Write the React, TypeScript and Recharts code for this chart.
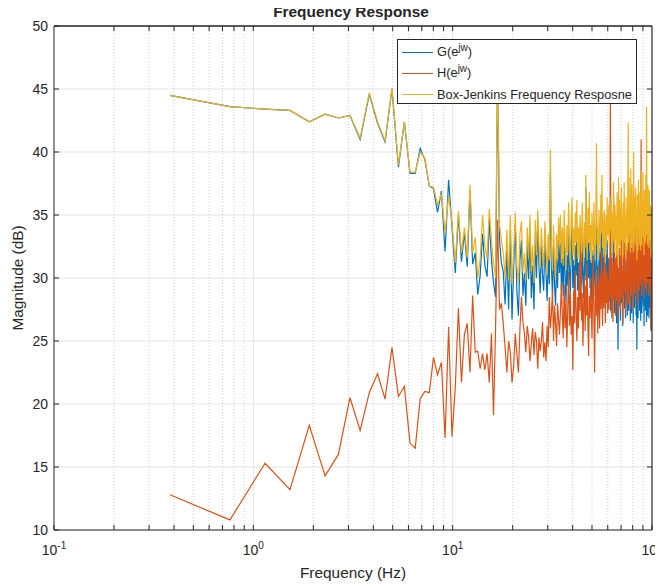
import { LineChart, Line, XAxis, YAxis, CartesianGrid, ReferenceLine, Legend } from 'recharts'

// FFT bin spacing: 262 bins up to 100 Hz
const DF = 100 / 262

// |G(e^jw)| in dB, one value per bin
const gMag = [
  44.5, 43.6, 43.4, 43.3, 42.4, 43.0, 42.7, 42.9, 41.0, 44.6,
  42.3, 40.8, 45.0, 38.8, 42.4, 38.3, 38.3, 40.3, 39.4, 37.3,
  37.1, 35.2, 36.9, 32.1, 37.8, 34.0, 30.4, 35.0, 31.3, 33.6,
  30.9, 37.0, 31.1, 32.0, 28.7, 30.2, 33.5, 31.0, 30.1, 34.6,
  31.5, 29.6, 28.5, 46.5, 33.0, 31.2, 30.5, 27.9, 32.2, 27.5,
  33.8, 26.7, 30.8, 34.2, 29.0, 27.0, 31.5, 33.0, 28.6, 30.4,
  27.8, 32.6, 29.9, 33.4, 28.4, 31.0, 27.5, 33.2, 30.0, 34.5,
  31.0, 28.8, 32.5, 30.2, 29.0, 33.0, 30.5, 28.2, 31.8, 29.5,
  38.5, 30.8, 28.6, 32.5, 29.4, 27.8, 31.6, 29.2, 33.0, 30.4,
  32.8, 29.0, 31.6, 28.6, 33.2, 30.0, 28.2, 31.8, 29.4, 33.6,
  30.6, 28.8, 32.0, 34.4, 29.2, 31.4, 28.4, 32.6, 30.2, 33.8,
  29.0, 31.2, 28.6, 32.4, 30.8, 29.4, 33.2, 30.0, 28.4, 31.6,
  29.8, 37.2, 30.4, 28.8, 32.8, 30.0, 33.8, 29.2, 31.4, 28.2,
  32.2, 30.6, 29.0, 33.0, 30.2, 28.6, 31.8, 34.6, 29.6, 31.0,
  28.4, 32.4, 30.2, 29.0, 33.4, 30.6, 35.0, 29.4, 31.6, 28.8,
  32.2, 30.0, 28.2, 31.8, 29.6, 33.0, 30.4, 29.4, 31.6, 28.2,
  30.8, 27.4, 32.0, 29.0, 26.8, 30.6, 28.4, 36.5, 29.8, 27.2,
  31.2, 28.6, 30.4, 26.4, 32.4, 29.2, 24.3, 30.0, 27.8, 31.8,
  28.8, 26.6, 30.6, 32.6, 28.0, 29.8, 26.2, 31.0, 28.6, 33.0,
  27.6, 29.4, 26.8, 31.4, 28.2, 30.4, 27.0, 32.0, 29.6, 27.4,
  33.6, 28.4, 30.2, 26.6, 31.6, 29.0, 27.2, 32.4, 28.8, 30.6,
  26.4, 33.2, 29.4, 27.6, 31.2, 28.6, 32.0, 27.0, 30.0, 24.3,
  31.4, 29.0, 26.8, 32.8, 28.4, 30.2, 27.4, 31.6, 29.2, 26.6,
  32.8, 29.6, 27.2, 31.0, 28.4, 33.4, 27.8, 30.4, 26.2, 31.8,
  28.6, 30.6, 27.4, 32.6, 29.0, 26.5, 31.2, 28.8, 27.0, 32.0,
  29.4, 30.8, 26.8, 31.6, 29.2, 27.6, 30.4, 28.4, 25.8, 30.2,
  27.8, 29.6,
]

// |H(e^jw)| in dB
const hMag = [
  12.8, 10.8, 15.3, 13.2, 18.3, 14.3, 16.0, 20.5, 17.9, 20.9,
  22.4, 20.4, 24.5, 20.6, 21.4, 16.9, 16.5, 20.4, 21.0, 20.9,
  23.7, 22.3, 23.3, 17.3, 26.1, 17.4, 21.3, 27.6, 21.7, 25.5,
  26.4, 22.5, 28.6, 24.1, 24.2, 22.8, 24.0, 22.7, 24.0, 21.7,
  25.6, 19.1, 26.0, 34.6, 27.5, 28.0, 26.4, 24.5, 22.5, 25.0,
  24.1, 21.7, 23.0, 25.6, 24.0, 22.5, 26.0, 28.5, 26.5, 25.6,
  24.1, 26.2, 25.3, 23.4, 24.8, 26.0, 23.9, 25.7, 25.0, 22.8,
  25.3, 24.2, 25.0, 26.5, 23.7, 24.9, 23.4, 26.2, 24.5, 28.5,
  26.0, 27.2, 29.0, 25.0, 27.8, 26.4, 24.6, 28.0, 26.7, 25.5,
  27.4, 29.6, 27.0, 25.2, 29.5, 26.0, 28.3, 24.5, 27.6, 30.5,
  26.2, 28.8, 25.5, 27.0, 22.7, 29.0, 26.4, 30.6, 27.2, 25.0,
  28.5, 26.0, 31.0, 27.4, 34.0, 26.6, 28.8, 24.6, 27.9, 30.2,
  25.8, 29.4, 27.0, 31.2, 26.2, 23.8, 28.6, 26.8, 30.0, 27.5,
  25.2, 29.2, 31.5, 26.5, 22.5, 28.0, 30.5, 27.0, 29.6, 25.6,
  31.0, 28.2, 26.0, 30.2, 27.5, 32.0, 28.4, 26.2, 30.6, 27.6,
  35.2, 28.8, 26.4, 31.0, 28.0, 30.4, 27.2, 29.8, 27.5, 31.5,
  28.4, 44.5, 30.2, 27.2, 32.0, 29.0, 26.5, 31.2, 28.6, 33.0,
  29.4, 27.0, 31.6, 28.2, 34.2, 29.6, 26.8, 30.8, 28.0, 32.4,
  29.2, 27.4, 31.4, 33.6, 28.4, 30.6, 26.4, 31.8, 29.0, 34.6,
  28.8, 30.0, 27.2, 32.6, 29.6, 31.0, 27.8, 33.4, 30.2, 28.0,
  35.5, 29.4, 31.6, 27.6, 32.8, 30.0, 28.6, 33.8, 29.8, 31.2,
  27.4, 36.0, 30.4, 28.8, 32.2, 30.0, 34.4, 28.2, 31.4, 29.2,
  33.2, 30.6, 27.8, 35.0, 30.8, 29.0, 32.6, 30.2, 34.0, 29.4,
  41.0, 31.2, 28.6, 33.0, 30.0, 35.6, 29.8, 31.8, 28.4, 33.6,
  30.4, 32.4, 29.2, 36.4, 30.6, 28.8, 33.4, 31.0, 29.6, 34.6,
  30.2, 32.8, 28.6, 35.8, 31.4, 29.4, 33.2, 30.8, 26.0, 32.0,
  29.2, 31.6,
]

// Box-Jenkins model response in dB
const bjMag = [
  44.5, 43.6, 43.4, 43.3, 42.4, 43.0, 42.7, 42.9, 41.1, 44.7,
  42.4, 40.9, 45.1, 39.0, 42.4, 38.4, 38.4, 40.0, 39.5, 37.3,
  37.2, 35.8, 36.7, 33.6, 36.5, 34.4, 31.2, 35.3, 32.0, 34.0,
  31.6, 37.4, 32.0, 33.2, 30.0, 31.5, 35.0, 32.5, 31.6, 35.5,
  33.0, 31.2, 30.0, 47.5, 34.2, 33.0, 32.0, 30.0, 33.8, 29.8,
  35.0, 29.5, 32.0, 35.2, 31.0, 29.5, 33.5, 34.5, 30.5, 32.0,
  29.8, 34.0, 31.5, 35.0, 30.5, 32.6, 29.6, 34.6, 31.8, 35.4,
  32.6, 30.8, 34.0, 32.0, 31.0, 34.5, 32.4, 30.2, 33.5, 31.4,
  40.2, 32.5, 30.6, 34.2, 31.6, 29.8, 33.5, 31.4, 34.8, 32.6,
  35.0, 31.2, 34.0, 31.0, 35.4, 32.4, 30.6, 34.2, 32.0, 36.0,
  33.0, 31.0, 34.6, 36.4, 31.8, 34.0, 31.0, 35.2, 32.8, 36.2,
  31.6, 34.0, 31.4, 35.0, 33.6, 32.0, 36.0, 32.8, 31.0, 34.4,
  32.4, 38.2, 33.2, 31.4, 35.6, 32.8, 36.8, 32.0, 34.2, 31.2,
  35.2, 33.4, 31.8, 36.0, 33.0, 31.4, 34.8, 40.7, 32.6, 34.0,
  31.4, 35.4, 33.2, 32.0, 36.6, 33.6, 38.2, 32.4, 34.6, 31.8,
  35.4, 33.0, 31.2, 35.0, 32.8, 36.4, 33.4, 33.4, 35.8, 32.4,
  35.0, 33.8, 36.4, 33.2, 31.6, 35.2, 32.8, 37.6, 34.4, 32.0,
  35.8, 33.0, 35.0, 31.8, 36.8, 33.8, 31.0, 38.0, 32.6, 36.2,
  33.6, 31.8, 35.4, 37.2, 33.0, 34.8, 31.6, 36.0, 33.4, 37.6,
  32.8, 34.4, 31.8, 36.4, 33.2, 35.4, 32.2, 37.0, 42.3, 32.8,
  38.0, 33.6, 35.4, 32.0, 38.7, 34.2, 32.4, 37.4, 34.0, 36.0,
  32.0, 40.0, 34.6, 32.8, 36.4, 34.0, 37.2, 32.6, 35.2, 31.4,
  36.6, 34.2, 32.2, 37.8, 33.8, 35.6, 32.8, 36.8, 34.6, 32.2,
  38.6, 35.0, 32.6, 36.2, 33.8, 38.4, 33.2, 35.8, 31.8, 37.0,
  34.0, 36.0, 32.8, 38.2, 34.4, 43.6, 36.6, 34.2, 32.6, 37.4,
  34.8, 36.2, 32.4, 37.0, 34.6, 33.0, 35.8, 33.8, 31.6, 35.6,
  33.2, 35.2,
]

const xMajor = [0.1, 1, 10, 100]
const xMinor = [0.2, 0.3, 0.4, 0.5, 0.6, 0.7, 0.8, 0.9, 2, 3, 4, 5, 6, 7, 8, 9, 20, 30, 40, 50, 60, 70, 80, 90]
const xTicks = [...xMajor, ...xMinor].sort((a, b) => a - b)
const yTicks = [10, 15, 20, 25, 30, 35, 40, 45, 50]

const series = [
  { key: 'g', color: '#0072BD' },
  { key: 'h', color: '#D95319' },
  { key: 'bj', color: '#EDB120' },
]

const data = gMag.map((g, i) => ({ f: (i + 1) * DF, g, h: hMag[i], bj: bjMag[i] }))

const FONT = '"Liberation Sans", Arial, Helvetica, sans-serif'
const INK = '#262626'

function XTick(props: any) {
  const { x, y, payload } = props
  if (!xMajor.includes(payload.value)) return <g />
  const exp = Math.round(Math.log10(payload.value))
  return (
    <text x={x} y={y} textAnchor="middle" fontSize={14} fill={INK} fontFamily={FONT}>
      <tspan>10</tspan>
      <tspan fontSize={10} dy={-6}>{exp}</tspan>
    </text>
  )
}

const sup = { fontSize: 10, position: 'relative' as const, top: -5, verticalAlign: 'baseline' }

function LegendBox() {
  const rows = [
    { color: series[0].color, label: <span>G(e<span style={sup}>jw</span>)</span> },
    { color: series[1].color, label: <span>H(e<span style={sup}>jw</span>)</span> },
    { color: series[2].color, label: <span>Box-Jenkins Frequency Resposne</span> },
  ]
  return (
    <div style={{ boxSizing: 'border-box', width: 240, height: 65, background: '#fff', border: `1px solid ${INK}`, paddingTop: 2, fontFamily: FONT, fontSize: 12.8, color: INK }}>
      {rows.map((r, i) => (
        <div key={i} style={{ display: 'flex', alignItems: 'center', height: 21 }}>
          <div style={{ marginLeft: 4, width: 31, height: 0, borderTop: `1.6px solid ${r.color}` }} />
          <div style={{ marginLeft: 4, whiteSpace: 'nowrap', lineHeight: '14px' }}>{r.label}</div>
        </div>
      ))}
    </div>
  )
}

export default function App() {
  return (
    <div style={{ position: 'relative', width: 655, height: 577, fontFamily: FONT, color: INK }}>
      <LineChart width={655} height={577} data={data} margin={{ top: 0, right: 11, bottom: 0, left: 0 }}>
        <CartesianGrid vertical={false} stroke="#e3e3e3" />
        {xMinor.map(v => <ReferenceLine key={'m' + v} x={v} stroke="#cfcfcf" strokeDasharray="1 2" />)}
        {[1, 10].map(v => <ReferenceLine key={'M' + v} x={v} stroke="#e3e3e3" />)}
        {series.map(s => (
          <Line key={s.key} dataKey={s.key} type="linear" stroke={s.color} strokeWidth={1.2} dot={false} activeDot={false} isAnimationActive={false} />
        ))}
        {/* box edges and inward ticks on the top and right sides */}
        <ReferenceLine x={100} stroke={INK} strokeWidth={1.2} />
        <ReferenceLine y={50} stroke={INK} />
        {yTicks.slice(1, -1).map(v => (
          <ReferenceLine key={'r' + v} segment={[{ x: 94.4, y: v }, { x: 100, y: v }]} stroke={INK} />
        ))}
        {xTicks.slice(1, -1).map(v => (
          <ReferenceLine key={'t' + v} segment={[{ x: v, y: 49.6 }, { x: v, y: 50 }]} stroke={INK} />
        ))}
        <XAxis dataKey="f" type="number" scale="log" domain={[0.1, 100]} allowDataOverflow ticks={xTicks} interval={0}
          height={55} tickSize={-5} tickMargin={30} tick={<XTick />} stroke={INK} />
        <XAxis xAxisId="top" orientation="top" type="number" scale="log" domain={[0.1, 100]} allowDataOverflow ticks={xTicks} interval={0}
          height={18} tickSize={-5} tick={false} stroke={INK} />
        <YAxis type="number" domain={[10, 50]} ticks={yTicks} interval={0} allowDataOverflow width={46} tickSize={-5} tickMargin={11}
          tick={{ fontSize: 14, fill: INK, fontFamily: FONT }} stroke={INK} />
        <Legend layout="horizontal" verticalAlign="middle" align="center" content={<LegendBox />}
          wrapperStyle={{ left: 389, top: 31, width: 240, height: 65 }} />
      </LineChart>
      <div style={{ position: 'absolute', left: 343, top: -4, transform: 'translateX(-50%)', fontSize: 15.4, fontWeight: 'bold', lineHeight: '16px', whiteSpace: 'nowrap' }}>
        Frequency Response
      </div>
      <div style={{ position: 'absolute', left: 345, top: 557, transform: 'translateX(-50%)', fontSize: 15.4, lineHeight: '16px', whiteSpace: 'nowrap' }}>
        Frequency (Hz)
      </div>
      <div style={{ position: 'absolute', left: 10, top: 270, transform: 'translate(-50%, -50%) rotate(-90deg)', fontSize: 15.4, lineHeight: '16px', whiteSpace: 'nowrap' }}>
        Magnitude (dB)
      </div>
    </div>
  )
}
